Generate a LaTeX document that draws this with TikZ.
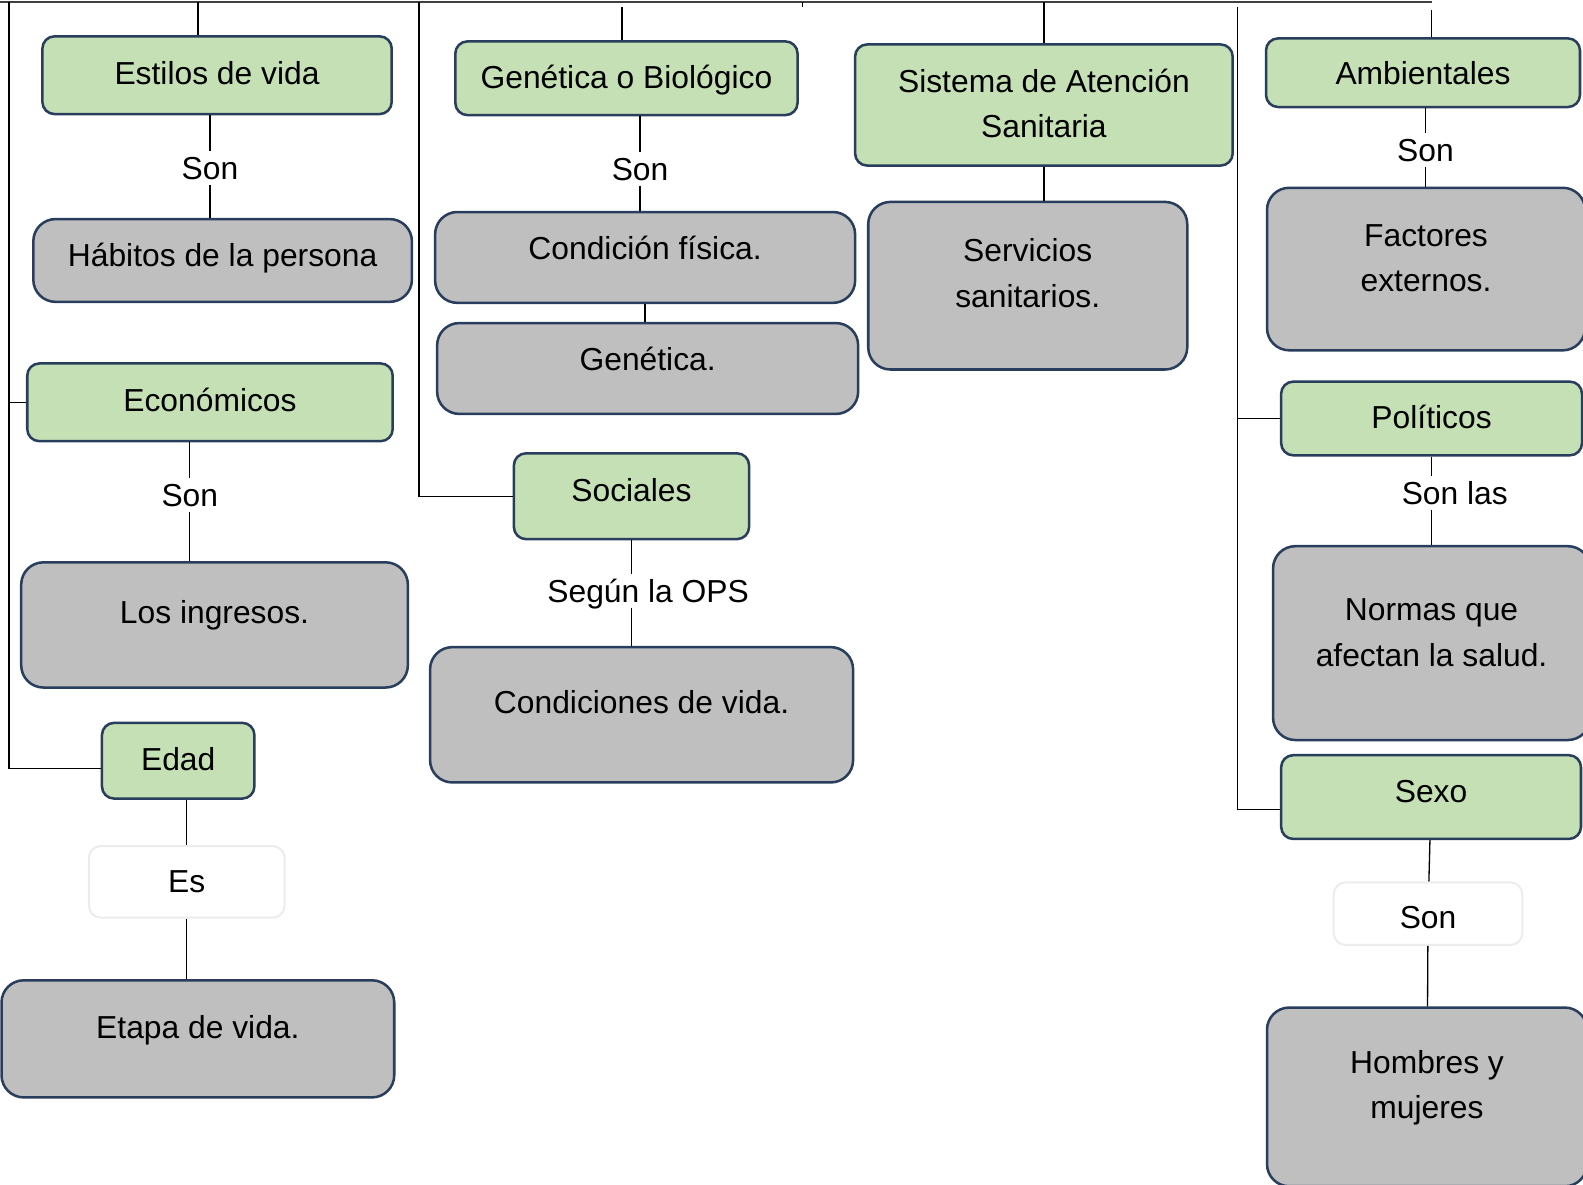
\documentclass[tikz,border=0pt]{standalone}
\usepackage{fontspec}
\setmainfont{Liberation Sans}
\usepackage{xcolor}
\usepackage{tikz}
\usetikzlibrary{positioning}
\definecolor{boxgreen}{RGB}{197,224,180}
\definecolor{boxgray}{RGB}{191,191,191}
\definecolor{boxedge}{RGB}{40,62,92}
\definecolor{faintedge}{RGB}{236,236,236}
\newcommand{\mapfont}{\fontsize{31.5pt}{45pt}\selectfont}
\tikzset{
  sz/.style 2 args={minimum width=#1pt, minimum height=#2pt},
  box/.style={draw=boxedge, line width=2.5pt, align=center, inner sep=0pt, text height=23pt, font=\mapfont},
  twolines/.style={text height=68pt},
  gbox/.style={box, fill=boxgreen, rounded corners=12pt},
  graybox/.style={box, fill=boxgray, rounded corners=22pt},
  wbox/.style={box, draw=faintedge, fill=white, line width=2pt, rounded corners=12pt},
  lbl/.style={font=\mapfont, text height=23pt, text depth=0.4pt, inner sep=5pt},
  link/.style={draw=black, line width=1.3pt},
  rootline/.style={draw=black!75, line width=2pt}
}
\begin{document}
\begin{tikzpicture}[x=1pt, y=-1pt]
\useasboundingbox (0,0) rectangle (1568,1173);
\clip (0,0) rectangle (1568,1173);

\node[gbox, sz={346}{77}, text depth=5.4pt] (estilos) at (215,74.5) {Estilos de vida};
\node[gbox, sz={339}{73}, text depth=3.4pt] (genetica) at (620.5,77.5) {Genética o Biológico};
\node[gbox, twolines, sz={374}{120}, text depth=3.4pt] (sistema) at (1034,104) {Sistema de Atención\\Sanitaria};
\node[gbox, sz={311}{68}, text depth=0.4pt] (ambientales) at (1409.5,72) {Ambientales};

\node[graybox, sz={375}{82}, text depth=10.4pt] (habitos) at (220.5,258) {Hábitos de la persona};
\node[graybox, sz={416}{90}, text depth=18.4pt] (condicion) at (639,255) {Condición física.};
\node[graybox, sz={417}{90}, text depth=18.4pt] (genes) at (641.5,365) {Genética.};
\node[graybox, twolines, sz={316}{166}, text depth=25.4pt] (servicios) at (1018,283) {Servicios\\sanitarios.};
\node[graybox, twolines, sz={315}{161}, text depth=23.4pt] (factores) at (1412.5,266.5) {Factores\\externos.};

\node[gbox, sz={362}{77}, text depth=5.4pt] (economicos) at (208,398.5) {Económicos};
\node[gbox, sz={233}{85}, text depth=13.4pt] (sociales) at (625.5,491.5) {Sociales};
\node[gbox, sz={298}{73}, text depth=3.4pt] (politicos) at (1418,414.5) {Políticos};

\node[graybox, sz={383}{124}, text depth=26.4pt] (ingresos) at (212.5,619) {Los ingresos.};
\node[graybox, sz={419}{134}, text depth=26.4pt] (condiciones) at (635.5,708) {Condiciones de vida.};
\node[graybox, twolines, sz={314}{192}, text depth=22.4pt] (normas) at (1418,637) {Normas que\\afectan la salud.};

\node[gbox, sz={151}{75}, text depth=3.4pt] (edad) at (176.5,753.5) {Edad};
\node[gbox, sz={297}{83}, text depth=11.4pt] (sexo) at (1417.5,789.5) {Sexo};
\node[wbox, sz={194}{71}, text depth=1.4pt] (es) at (185,873.5) {Es};
\node[wbox, sz={187}{62}, text height=29pt, text depth=0pt] (sonsexo) at (1414.5,905) {Son};
\node[graybox, sz={389}{116}, text depth=24.4pt] (etapa) at (196,1029) {Etapa de vida.};
\node[graybox, twolines, sz={317}{177}, text depth=24.4pt] (hombres) at (1413.5,1086.5) {Hombres y\\mujeres};

\node[lbl] (sonestilos) at (208,166) {Son};
\node[lbl] (songenetica) at (634,167) {Son};
\node[lbl] (sonamb) at (1412,149) {Son};
\node[lbl] (soneco) at (188,490) {Son};
\node[lbl] (ops) at (642,585) {Según la OPS};
\node[lbl] (sonlas) at (1441,488) {Son las};

\coordinate (root0) at (0,2);
\coordinate (root1) at (1418,2);
\coordinate (leftbar) at (9,2);
\coordinate (midbar) at (415,2);
\coordinate (rightbar) at (1226,7);
\coordinate (tick) at (795,2);
\coordinate (toestilos) at (196,2);
\coordinate (togenetica) at (616,7);
\coordinate (tosistema) at (1034,2);
\coordinate (toambientales) at (1418,10);

\draw[rootline] (root0) -- (root1);
\draw[link] (tick) -- ++(0,5);
\draw[link] (toestilos) -- (toestilos |- estilos.north);
\draw[link] (togenetica) -- (togenetica |- genetica.north);
\draw[link] (tosistema) -- (tosistema |- sistema.north);
\draw[link] (toambientales) -- (toambientales |- ambientales.north);
\draw[link] (leftbar) |- ([yshift=-8pt]edad.west);
\draw[link] (leftbar |- economicos.west) -- (economicos.west);
\draw[link] (midbar) |- (sociales.west);
\draw[link] (rightbar) |- (politicos.west);
\draw[link] (rightbar) |- ([yshift=-12pt]sexo.west);

\draw[link] (sonestilos |- estilos.south) -- (sonestilos) -- (sonestilos |- habitos.north);
\draw[link] (songenetica |- genetica.south) -- (songenetica) -- (songenetica |- condicion.north);
\draw[link] (condicion.south) -- (condicion.south |- genes.north);
\draw[link] (sistema.south) -- (sistema.south |- servicios.north);
\draw[link] (sonamb |- ambientales.south) -- (sonamb) -- (sonamb |- factores.north);
\draw[link] (soneco |- economicos.south) -- (soneco) -- (soneco |- ingresos.north);
\draw[link] (sociales.south) -- (sociales.south |- ops.north) (sociales.south |- ops.south) -- (sociales.south |- condiciones.north);
\draw[link] (politicos.south) -- (politicos.south |- sonlas.north) (politicos.south |- sonlas.south) -- (politicos.south |- normas.north);
\draw[link] (es.north) -- (es.north |- edad.south);
\draw[link] (es.south) -- (es.south |- etapa.north);
\draw[link] (sexo) -- (sonsexo) -- (hombres);
\end{tikzpicture}
\end{document}
